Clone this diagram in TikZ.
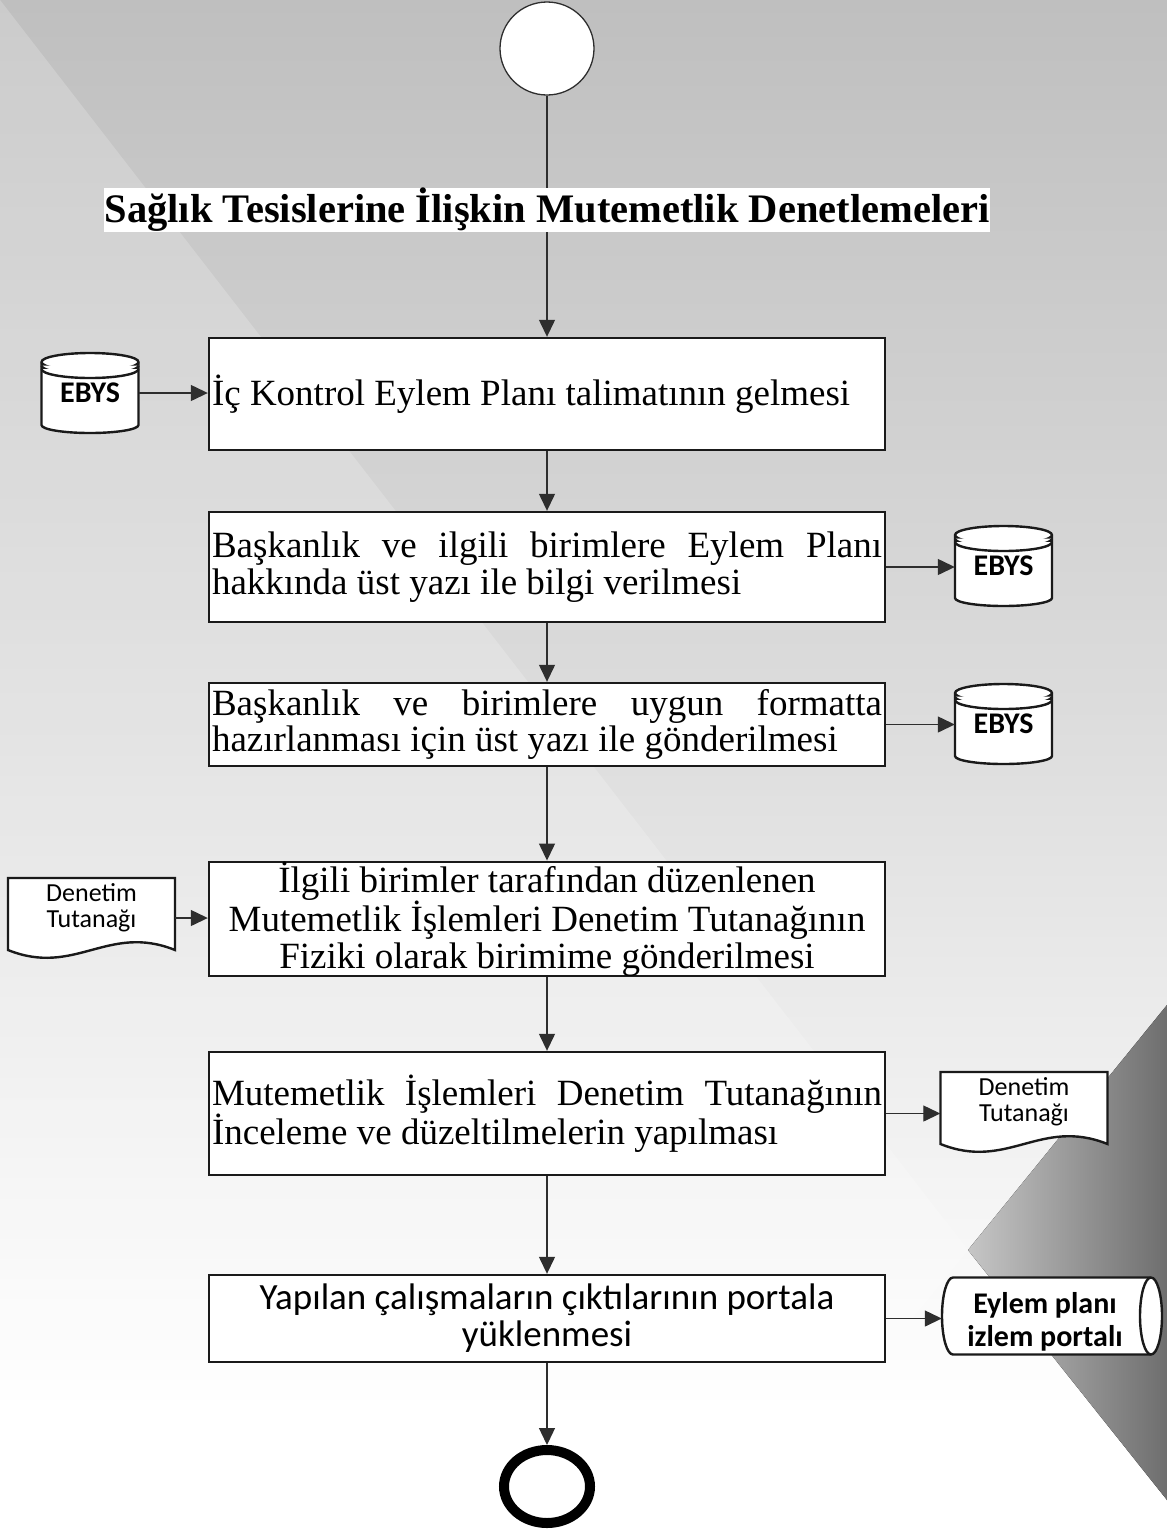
\documentclass[tikz,border=0pt]{standalone}
\usepackage{fontspec}
\setmainfont{Liberation Serif}
\newfontfamily\sansfont{Carlito}
\usetikzlibrary{arrows.meta,calc,shapes.geometric}

\definecolor{bgtop}{HTML}{BFBFBF}
\definecolor{bgmid}{HTML}{DCDCDC}
\definecolor{facetlight}{HTML}{C6C6C6}
\definecolor{facetdark}{HTML}{6E6E6E}
\definecolor{ink}{HTML}{1A1A1A}
\definecolor{wire}{HTML}{2E2E2E}

% page backdrop: grey at the top fading to white near the foot
\pgfdeclareverticalshading{pagefade}{100bp}{%
  color(0bp)=(white); color(25bp)=(white); color(29bp)=(white);
  color(52bp)=(bgmid); color(75bp)=(bgtop); color(100bp)=(bgtop)}

\newcommand\stepfont{\fontsize{37}{36.5}\selectfont}
\newcommand\titlefont{\fontsize{40.5}{44}\selectfont\bfseries}
\newcommand\notefont{\sansfont\fontsize{26}{26.5}\selectfont}
\newcommand\dbfont{\sansfont\bfseries\fontsize{30}{30}\selectfont}
\newcommand\portalfont{\sansfont\bfseries\fontsize{30}{33}\selectfont}
\newcommand\uploadfont{\sansfont\fontsize{37}{37}\selectfont}
% a line whose word spaces stretch to fill the box width
\newcommand\spreadline[1]{\makebox[670pt][s]{#1}}

% database drum with a triple rim: name, centre x, centre y, label
\newcommand\dbstore[4]{%
  \begin{scope}[shift={(#2,#3)}]
    \filldraw[shapeline] (-48.5,-31) arc[start angle=180,end angle=0,x radius=48.5pt,y radius=9pt]
      -- (48.5,32) arc[start angle=0,end angle=-180,x radius=48.5pt,y radius=8pt] -- cycle;
    \foreach \d in {0,3.5,7}
      \draw[shapeline] (-48.5,-31+\d) arc[start angle=180,end angle=360,x radius=48.5pt,y radius=9pt];
  \end{scope}
  \node[dbnode] (#1) at (#2,#3) {#4};
}

% paper sheet with a wavy lower edge: name, centre x, centre y, label
\newcommand\docsheet[4]{%
  \begin{scope}[shift={(#2,#3)}]
    \filldraw[shapeline] (-83.5,-40) -- (83.5,-40) -- (83.5,32)
      .. controls (16.5,5) and (-16.5,59) .. (-83.5,32) -- cycle;
  \end{scope}
  \node[docnode] (#1) at (#2,#3) {};
  \node[font=\notefont, align=flush center, inner sep=0] (#1-t) at (#2,#3-10.5) {#4};
}

\begin{document}
\begin{tikzpicture}[x=1pt,y=-1pt,
  conn/.style={draw=wire, line width=1.3pt, -{Triangle[length=17pt,width=16pt]}},
  procbox/.style={draw=ink, line width=2.4pt, fill=white, inner xsep=3pt, inner ysep=0pt,
    text width=670pt, font=\stepfont},
  shapeline/.style={draw=ink, line width=2.4pt, fill=white},
  dbnode/.style={minimum width=97, minimum height=80, inner sep=0, font=\dbfont},
  docnode/.style={minimum width=167, minimum height=80, inner sep=0}
]
\useasboundingbox (0,0) rectangle (1167,1532);

% backdrop
\fill[shading=pagefade] (0,0) rectangle (1167,1532);
\fill[white, fill opacity=0.2] (0,0) -- (968,1250) -- (740,1532) -- (0,1532) -- cycle;
\fill[left color=facetlight, right color=facetdark] (1167,1005) -- (968,1250) -- (1167,1500) -- cycle;

% terminals
\node[draw=wire, line width=1.3pt, ellipse, fill=white, minimum width=94, minimum height=93, inner sep=0] (start) at (547,48.5) {};
\node[draw=black, line width=10pt, ellipse, fill=white, minimum width=86, minimum height=73, inner sep=0] (finish) at (547,1486.5) {};

% process steps
\node[procbox, minimum height=112, align=flush left] (b1) at (547,394)
  {İç Kontrol Eylem Planı talimatının gelmesi};
\node[procbox, minimum height=110, align=flush left] (b2) at (547,567)
  {\spreadline{Başkanlık ve ilgili birimlere Eylem Planı}\\hakkında üst yazı ile bilgi verilmesi};
\node[procbox, minimum height=83, align=flush left] (b3) at (547,724.5)
  {\spreadline{Başkanlık ve birimlere uygun formatta}\\hazırlanması için üst yazı ile gönderilmesi};
\node[procbox, minimum height=112, align=flush center] (b4) at (547,919)
  {İlgili birimler tarafından düzenlenen\\Mutemetlik İşlemleri Denetim Tutanağının\\Fiziki olarak birimime gönderilmesi};
\node[procbox, minimum height=123, align=flush left] (b5) at (547,1113.5)
  {\spreadline{Mutemetlik İşlemleri Denetim Tutanağının}\\İnceleme ve düzeltilmelerin yapılması};
\node[procbox, minimum height=87, align=flush center, font=\uploadfont] (b6) at (547,1318.5)
  {Yapılan çalışmaların çıktılarının portala\\yüklenmesi};

% side stores and documents
\dbstore{db1}{90}{393}{EBYS}
\dbstore{db2}{1003.5}{566}{EBYS}
\dbstore{db3}{1003.5}{724}{EBYS}
\docsheet{d1}{91.5}{918}{Denetim\\Tutanağı}
\docsheet{d2}{1024}{1112}{Denetim\\Tutanağı}

% portal drum lying on its side
\begin{scope}[shift={(1052,1316)}]
  \filldraw[shapeline] (-99,-38.5) -- (99,-38.5)
    arc[start angle=90,end angle=-90,x radius=11pt,y radius=38.5pt]
    -- (-99,38.5) arc[start angle=270,end angle=90,x radius=11pt,y radius=38.5pt] -- cycle;
  \draw[shapeline, fill=none] (99,-38.5) arc[start angle=90,end angle=270,x radius=11pt,y radius=38.5pt];
\end{scope}
\node[minimum width=220, minimum height=77, inner sep=0] (portal) at (1052,1316) {};
\node[font=\portalfont, align=flush center, inner sep=0] (portal-t) at (1045,1322) {Eylem planı\\izlem portalı};

% flow
\draw[conn] (start.south) -- (b1.north);
\draw[conn] (b1.south) -- (b2.north);
\draw[conn] (b2.south) -- (b3.north);
\draw[conn] (b3.south) -- (b4.north);
\draw[conn] (b4.south) -- (b5.north);
\draw[conn] (b5.south) -- (b6.north);
\draw[conn] (b6.south) -- (finish.north);
\draw[conn] (db1.east) -- (db1.east -| b1.west);
\draw[conn] (b2.east) -- (b2.east -| db2.west);
\draw[conn] (b3.east) -- (b3.east -| db3.west);
\draw[conn] (d1.east) -- (d1.east -| b4.west);
\draw[conn] (b5.east) -- (b5.east -| d2.west);
\draw[conn] (b6.east) -- (b6.east -| portal.west);

% heading laid over the first connector
\node[fill=white, inner sep=0, minimum width=886, minimum height=44, font=\titlefont] (title) at (547,210)
  {Sağlık Tesislerine İlişkin Mutemetlik Denetlemeleri};
\end{tikzpicture}
\end{document}
